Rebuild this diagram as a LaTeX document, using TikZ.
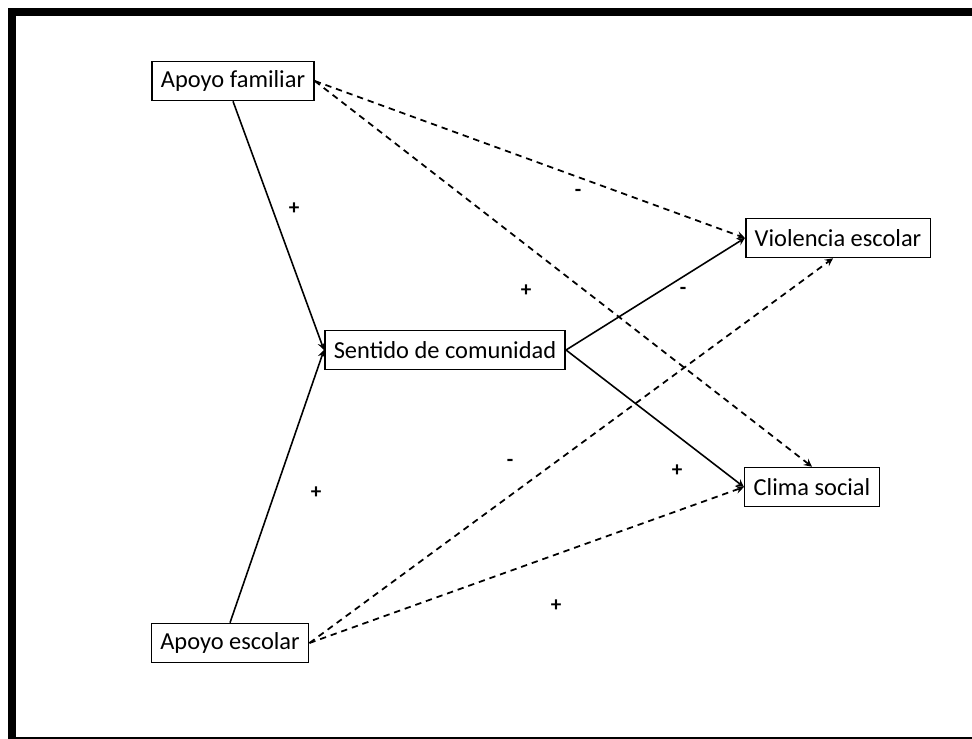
\documentclass[tikz,border=0pt]{standalone}
\usepackage{fontspec}
\setmainfont{Carlito}
\begin{document}
\begin{tikzpicture}[x=0.02cm,y=-0.02cm,font=\fontsize{13.9}{16}\selectfont,>=stealth,
    varbox/.style={draw,line width=0.9pt,inner xsep=0.18cm,minimum height=0.78cm},
    efecto/.style={->,line width=0.9pt},
    directo/.style={->,line width=1pt,dash pattern=on 3.6pt off 2.8pt},
    signo/.style={inner sep=1pt,font=\fontsize{12}{14}\selectfont\bfseries}]
    \useasboundingbox (0,0) rectangle (972,739);
    \draw[line width=8*0.02cm] (12,745)--(12,12)--(990,12);
    \draw[line width=8*0.02cm] (12,741)--(990,741);
    \node[varbox] (af) at (233,81) {Apoyo familiar};
    \node[varbox] (ae) at (230,643) {Apoyo escolar};
    \node[varbox] (sc) at (445,350) {Sentido de comunidad};
    \node[varbox] (ve) at (838,238) {Violencia escolar};
    \node[varbox] (cs) at (812,487) {Clima social};
    \draw[efecto] (af.south)--(sc.west);
    \draw[efecto] (ae.north)--(sc.west);
    \draw[efecto] (sc.east)--(ve.west);
    \draw[efecto] (sc.east)--(cs.west);
    \draw[directo] (af.east)--(ve.west);
    \draw[directo] (af.east)--(cs.north);
    \draw[directo] (ae.east)--([xshift=-0.1cm]ve.south);
    \draw[directo] (ae.east)--(cs.west);
    \node[signo] (s1) at (294,209) {+};
    \node[signo] (s2) at (578,193) {-};
    \node[signo] (s3) at (526,291) {+};
    \node[signo] (s4) at (683,291) {-};
    \node[signo] (s5) at (510,463) {-};
    \node[signo] (s6) at (316,493) {+};
    \node[signo] (s7) at (677,471) {+};
    \node[signo] (s8) at (556,606) {+};
  \end{tikzpicture}
\end{document}
